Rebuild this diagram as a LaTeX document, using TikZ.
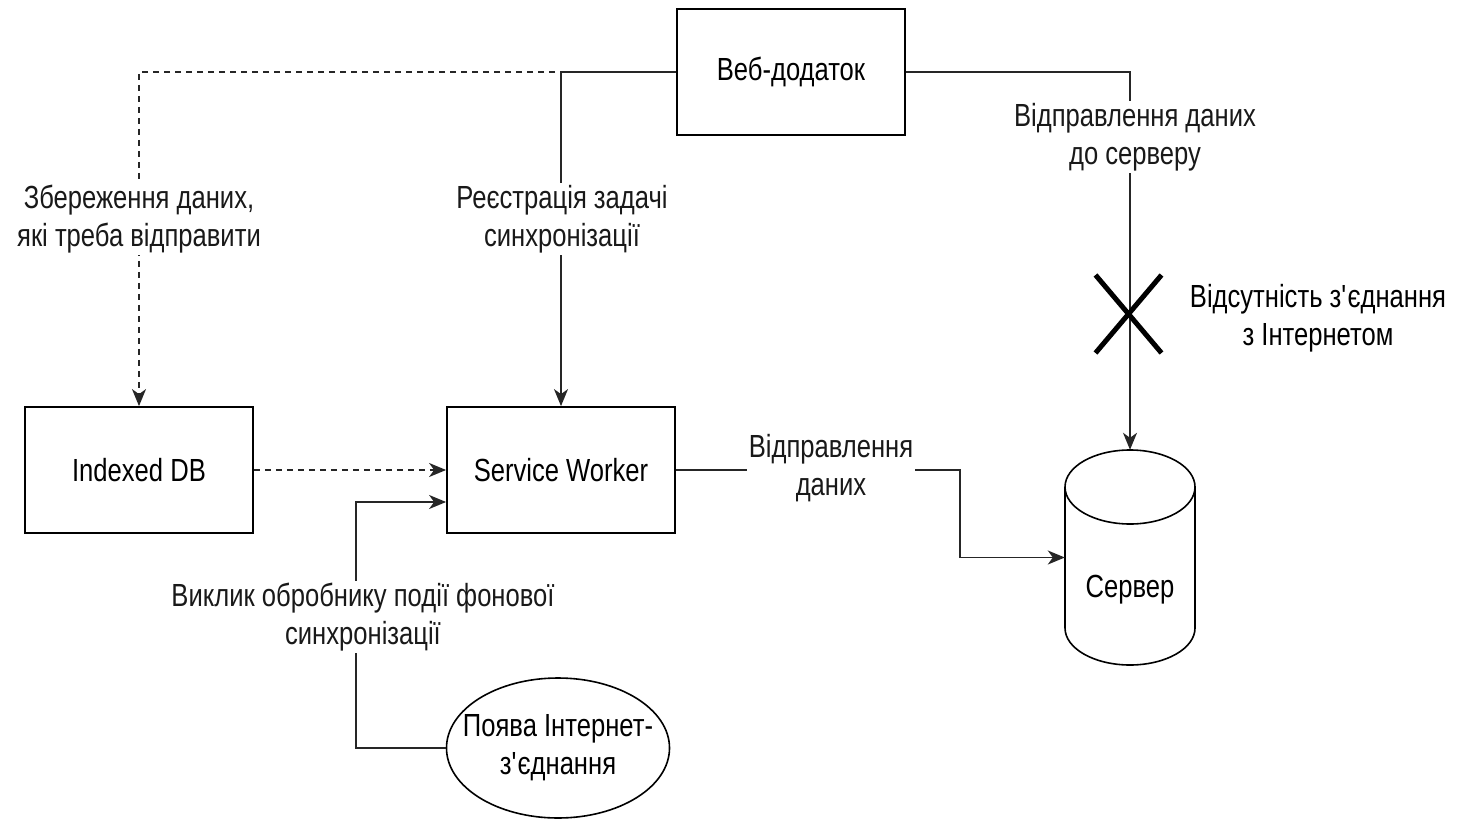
\documentclass[tikz,border=0pt]{standalone}
\usepackage{fontspec}
\setmainfont{Liberation Sans}[FakeStretch=0.8]
\usetikzlibrary{arrows.meta,shapes.geometric,calc}
\begin{document}
\begin{tikzpicture}[x=1pt,y=1pt,
  font=\fontsize{32}{38}\selectfont,
  box/.style={draw, line width=1.8pt, minimum width=228pt, minimum height=126pt, inner sep=0pt},
  conn/.style={line width=1.8pt, draw=black!85},
  arr/.style={-{Stealth[length=17pt,width=14pt,inset=5pt]}},
  dsh/.style={dash pattern=on 6pt off 5pt},
  lbl/.style={fill=white, inner sep=2pt, align=center, text=black!90}]
\useasboundingbox (0,0) rectangle (1458,-821);
\node[box] (web) at (791,-72) {Веб-додаток};
\node[box] (idb) at (139,-470) {Indexed DB};
\node[box] (sw) at (561,-470) {Service Worker};
% server cylinder
\node[minimum width=130pt, minimum height=215pt, inner sep=0pt] (srv) at (1130,-557.5) {};
\draw[line width=1.6pt] (1065,-487) -- (1065,-628) arc[start angle=180, end angle=360, x radius=65, y radius=37]
  -- (1195,-487) arc[start angle=0, end angle=180, x radius=65, y radius=37] -- cycle;
\draw[line width=1.6pt] (1065,-487) arc[start angle=180, end angle=360, x radius=65, y radius=37];
\node at (1130,-590) {Сервер};
% event ellipse
\node[draw, ellipse, line width=1.6pt, minimum width=223pt, minimum height=140pt, inner sep=0pt] (ev) at (558,-748) {};
\node[align=center] at (ev.center) {Поява Інтернет-\\з\textquotesingle єднання};
% connectors
\draw[conn, dsh, arr] (web.west) -| (idb.north);
\draw[conn, arr] (web.west) -| (sw.north);
\draw[conn, arr] (web.east) -| (srv.north);
\draw[conn, dsh, arr] (idb.east) -- (sw.west);
\coordinate (bend) at (356,-502);
\draw[conn, arr] (ev.west) -| (bend) -- (bend -| sw.west);
\coordinate (knee) at (960,-470);
\draw[conn, arr] (sw.east) -- (knee) |- (srv.west);
% labels
\node[lbl] at (139,-219) {Збереження даних,\\які треба відправити};
\node[lbl] at (562,-219) {Реєстрація задачі\\синхронізації};
\node[lbl] at (1135,-137) {Відправлення даних\\до серверу};
\node[lbl] at (831,-468) {Відправлення\\даних};
\node[lbl] at (363,-617) {Виклик обробнику події фонової\\синхронізації};
\node[align=center] at (1318,-318) {Відсутність з\textquotesingle єднання\\з Інтернетом};
% cross
\coordinate (x0) at (1128.5,-314);
\draw[line width=5pt] ($(x0)+(-33,39)$) -- ($(x0)+(33,-39)$);
\draw[line width=5pt] ($(x0)+(33,39)$) -- ($(x0)+(-33,-39)$);
\end{tikzpicture}
\end{document}
